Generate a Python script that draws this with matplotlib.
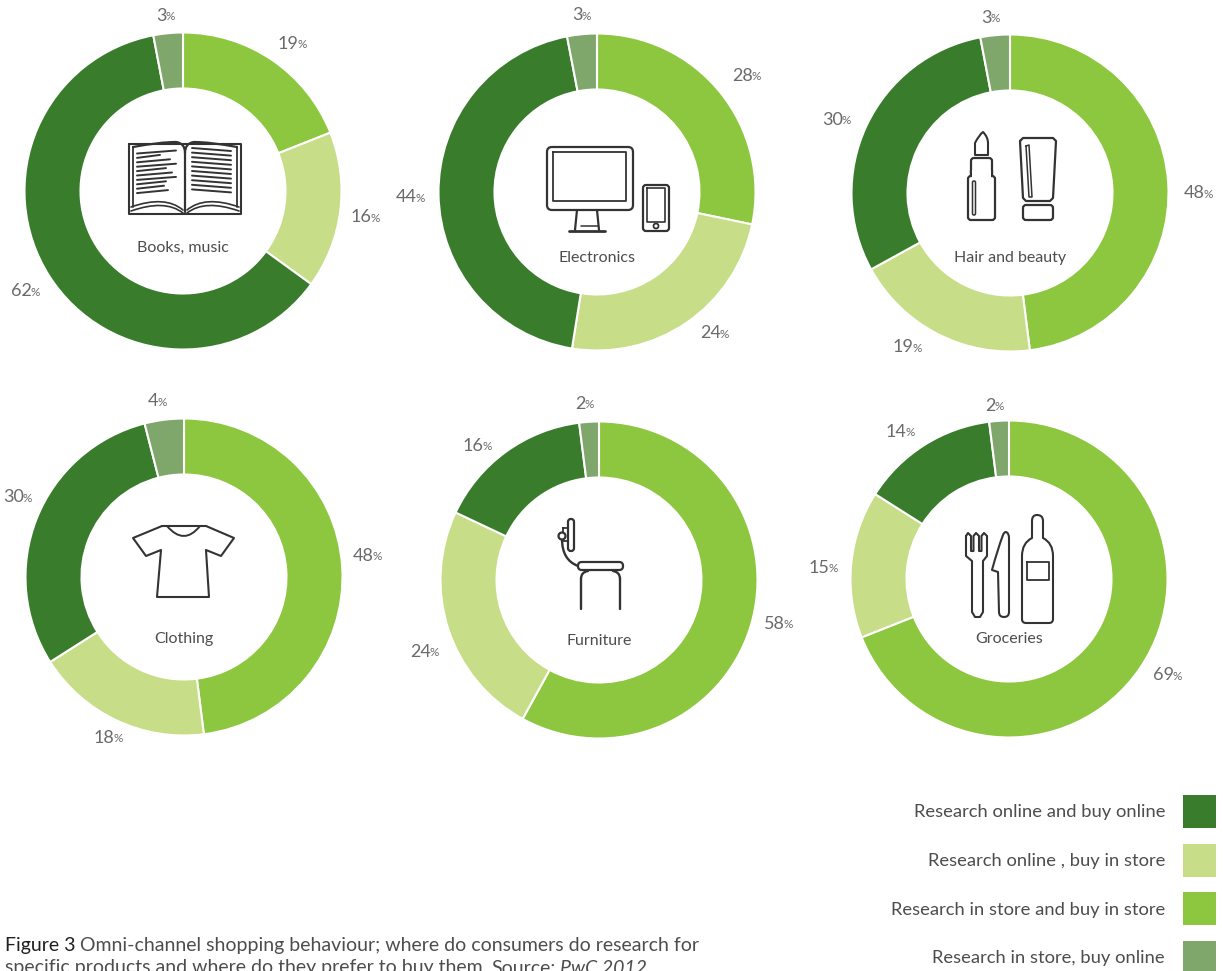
import matplotlib
matplotlib.use('Agg')
import numpy as np
import matplotlib.pyplot as plt
from matplotlib.patches import FancyBboxPatch, Circle, Rectangle, PathPatch
from matplotlib.path import Path

plt.rcParams['font.family'] = ['Lato', 'DejaVu Sans']

# values clockwise from 12 o'clock: in store/in store, online/store, online/online, store/online
categories = ['Books, music', 'Electronics', 'Hair and beauty', 'Clothing', 'Furniture', 'Groceries']
store_store = [19, 28, 48, 48, 58, 69]
online_store = [16, 24, 19, 18, 24, 15]
online_online = [62, 44, 30, 30, 16, 14]
store_online = [3, 3, 3, 4, 2, 2]

legend_labels = ['Research online and buy online', 'Research online , buy in store',
                 'Research in store and buy in store', 'Research in store, buy online']

DARK, PALE, MID, GREY = '#387c2c', '#c7dd88', '#8dc63f', '#7fa76c'
INK = '#333333'
LABEL = '#4d4d4d'
PCT = '#6a6a6a'

# layout, in picture pixels
centers = [(183, 191), (597, 192), (1010, 193), (184, 577), (599, 580), (1009, 579)]
name_y = [248, 258, 258, 639, 641, 639]
label_pos = [
    [(293, 44), (366, 217), (26, 291), (166, 16)],
    [(747, 76), (715, 333), (411, 197), (582, 15)],
    [(1199, 193), (908, 347), (837, 120), (991, 18)],
    [(368, 556), (109, 738), (18, 497), (158, 401)],
    [(779, 624), (425, 652), (478, 446), (585, 404)],
    [(1168, 675), (824, 568), (901, 432), (995, 406)],
]

fig = plt.figure(figsize=(12.23, 9.71), dpi=100)
ax = fig.add_axes([0, 0, 1, 1])

for i, c in enumerate(centers):
    vals = [store_store[i], online_store[i], online_online[i], store_online[i]]
    # y axis is flipped below, so this runs clockwise from the top on screen
    ax.pie(vals, colors=[MID, PALE, DARK, GREY], center=c, radius=158.5, startangle=-90,
           counterclock=True, wedgeprops=dict(width=56, edgecolor='white', linewidth=1.5))

ax.set_xlim(0, 1223)
ax.set_ylim(971, 0)
ax.set_aspect('auto')
ax.axis('off')
renderer = fig.canvas.get_renderer()


def pct_label(x, y, v):
    a = ax.text(0, y, str(v), fontsize=13, color=PCT, ha='left', va='center')
    b = ax.text(0, y + 1, '%', fontsize=8.5, color=PCT, ha='left', va='center')
    wa = a.get_window_extent(renderer).width
    wb = b.get_window_extent(renderer).width
    a.set_x(x - (wa + wb) / 2)
    b.set_x(x - (wa + wb) / 2 + wa - 1)


for i, c in enumerate(centers):
    vals = [store_store[i], online_store[i], online_online[i], store_online[i]]
    for (x, y), v in zip(label_pos[i], vals):
        pct_label(x, y, v)
    ax.text(c[0], name_y[i], categories[i], fontsize=11.5, color=LABEL, ha='center', va='center')


def line(pts, lw=1.6, close=False):
    pts = np.array(pts, dtype=float)
    if close:
        pts = np.vstack([pts, pts[0]])
    ax.plot(pts[:, 0], pts[:, 1], color=INK, lw=lw, solid_capstyle='round', solid_joinstyle='round')


def rbox(x0, y0, x1, y1, r=3, lw=1.6):
    ax.add_patch(FancyBboxPatch((x0 + r, y0 + r), x1 - x0 - 2 * r, y1 - y0 - 2 * r,
                                boxstyle=f'round,pad={r},rounding_size={r}',
                                fc='white', ec=INK, lw=lw))


def curve(p0, p1, p2, lw=1.6):
    path = Path([p0, p1, p2], [Path.MOVETO, Path.CURVE3, Path.CURVE3])
    ax.add_patch(PathPatch(path, fc='none', ec=INK, lw=lw, capstyle='round'))


def shape(start, segs, lw=1.5):
    # segs: a 1-tuple is a straight piece, a 2-tuple a quadratic one
    verts, codes = [start], [Path.MOVETO]
    for s in segs:
        if len(s) == 1:
            verts += [s[0]]
            codes += [Path.LINETO]
        else:
            verts += [s[0], s[1]]
            codes += [Path.CURVE3, Path.CURVE3]
    verts.append(start)
    codes.append(Path.CLOSEPOLY)
    ax.add_patch(PathPatch(Path(verts, codes), fc='white', ec=INK, lw=lw, joinstyle='round'))


# book
line([(129, 144), (241, 144), (241, 214), (129, 214)], lw=1.5, close=True)
line([(133, 147), (133, 207)], lw=1.3)
line([(237, 147), (237, 207)], lw=1.3)
curve((133, 147), (160, 142), (176, 142), lw=1.6)
curve((176, 142), (185, 143), (185, 153), lw=1.6)
curve((237, 147), (210, 142), (194, 142), lw=1.6)
curve((194, 142), (185, 143), (185, 153), lw=1.6)
line([(185, 153), (185, 212)], lw=1.6)
for k, end in enumerate([176, 160, 170, 176, 166, 172, 176, 166, 164, 168]):
    y = 152 + k * 4.4
    line([(137, y + 1.5), (end, y - 1.5)], lw=1.4)
for k in range(10):
    y = 148 + k * 4.6
    line([(192, y), (231, y + 3)], lw=1.4)
curve((131, 211), (165, 199), (183, 213), lw=1.2)
curve((239, 211), (205, 199), (187, 213), lw=1.2)
curve((131, 207), (165, 195), (183, 210), lw=1.2)
curve((239, 207), (205, 195), (187, 210), lw=1.2)

# monitor and phone
rbox(547, 147, 633, 210, r=5)
line([(553, 152), (626, 152), (626, 201), (553, 201)], lw=1.3, close=True)
line([(577, 210), (575, 230)])
line([(597, 210), (599, 230)])
line([(569, 231), (605, 231)], lw=2)
line([(581, 226), (598, 226)], lw=1.1)
rbox(643, 185, 669, 231, r=3)
line([(646.5, 188.5), (665, 188.5), (665, 222), (646.5, 222)], lw=1.2, close=True)
ax.add_patch(Circle((656, 226), 2.5, fc='white', ec=INK, lw=1.3))

# lipstick and tube
shape((975, 155), [((975, 143),), ((979, 135), (983, 132)), ((988, 137), (988, 143)), ((988, 155),)])
rbox(971, 158, 992, 182, r=3)
rbox(968, 176, 995, 220, r=3)
ax.add_patch(Rectangle((972.2, 170), 18.6, 10, fc='white', ec='none', zorder=3))
line([(971, 170), (971, 176)])
line([(992, 170), (992, 176)])
rbox(972.5, 181, 975.5, 215, r=1.4, lw=1.1)
line([(1020, 141), (1023, 138), (1053, 138), (1056, 141), (1053, 198), (1050, 201),
      (1026, 201), (1023, 198)], close=True)
line([(1026, 146), (1029, 145), (1032, 197), (1029, 197)], lw=1.1, close=True)
rbox(1023, 205, 1053, 220, r=3)

# t-shirt
line([(162, 526), (206, 526), (234, 538), (221, 556), (206, 550), (209, 597), (157, 597),
      (161, 550), (146, 556), (133, 538)], lw=1.5, close=True)
curve((167, 526), (184, 546), (200, 526), lw=1.4)

# chair
curve((562, 539), (562, 560), (578, 566), lw=1.7)
line([(563, 528), (568, 528), (568, 541), (563, 541)], lw=1.3, close=True)
ax.add_patch(Circle((562, 536), 3.5, fc='white', ec=INK, lw=1.6, zorder=3))
rbox(568, 519, 574, 551, r=2.8)
rbox(578, 562, 623, 570, r=3.8)
line([(581, 609), (581, 579)], lw=1.7)
curve((581, 579), (581, 572), (588, 571), lw=1.7)
line([(620, 609), (620, 579)], lw=1.7)
curve((620, 579), (620, 572), (613, 571), lw=1.7)

# fork, knife, bottle
line([(966, 536), (968, 533), (971, 536), (971, 551), (973.5, 551), (973.5, 536), (976, 533), (979, 536),
      (979, 551), (981.5, 551), (981.5, 536), (984, 533), (987, 536), (987, 556), (983, 561),
      (983, 612), (980, 617), (975, 617), (972, 612), (972, 561), (966, 556)], lw=1.5, close=True)
shape((1006, 532), [((1009, 533), (1009, 538)), ((1009, 612),), ((1009, 617), (1004, 617)),
                    ((999, 617), (999, 612)), ((998, 572),), ((992, 570),), ((998, 548), (1003, 535)),
                    ((1004, 532), (1006, 532))])
shape((1037, 515), [((1043, 515), (1043, 521)), ((1043, 538),), ((1053, 543), (1053, 556)),
                    ((1053, 619),), ((1053, 623), (1049, 623)), ((1026, 623),), ((1022, 623), (1022, 619)),
                    ((1022, 556),), ((1022, 543), (1032, 538)), ((1032, 521),), ((1032, 515), (1037, 515))])
line([(1027, 562), (1049, 562), (1049, 580), (1027, 580)], lw=1.3, close=True)

# legend
for k, (lab, col) in enumerate(zip(legend_labels, [DARK, PALE, MID, GREY])):
    y0 = 795 + k * 48.6
    ax.add_patch(Rectangle((1183, y0), 33, 33, fc=col, ec='none'))
    ax.text(1165, y0 + 17.5, lab, fontsize=13.2, color=LABEL, ha='right', va='center')


def run(x, y, parts):
    for s, col in parts:
        t = ax.text(x, y, s, fontsize=14, color=col, ha='left', va='center', clip_on=False,
                    fontstyle='italic' if s.startswith('PwC') else 'normal')
        x += t.get_window_extent(renderer).width + 4


# caption, second line runs off the bottom edge as in the source
run(5, 945, [('Figure 3', '#1f1f1f'),
             ('Omni-channel shopping behaviour; where do consumers do research for', LABEL)])
run(5, 968, [('specific products and where do they prefer to buy them.', LABEL),
             ('Source:', LABEL),
             ('PwC 2012', LABEL)])

fig.savefig('out.png', dpi=100)
